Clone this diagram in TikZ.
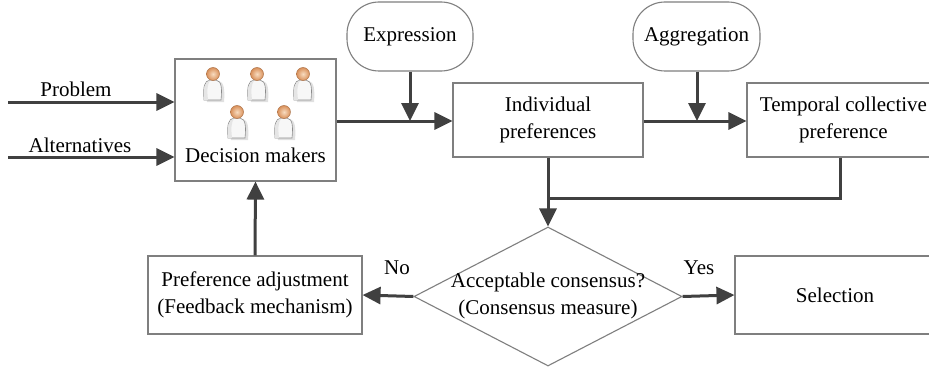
\documentclass[tikz,border=0pt]{standalone}
\usepackage{fontspec}
\setmainfont{Liberation Serif}
\newfontfamily\tnr{Liberation Serif}
\usetikzlibrary{arrows.meta,shapes.geometric}
\definecolor{linec}{HTML}{404040}
\definecolor{boxc}{HTML}{7F7F7F}
\definecolor{headc}{HTML}{D9905A}
\definecolor{headl}{HTML}{F8DCC0}
\begin{document}
\begin{tikzpicture}[x=1pt,y=-1pt,
  box/.style={draw=boxc,line width=1.1pt,fill=white,rectangle,inner sep=0pt,align=center},
  term/.style={draw=boxc,line width=1.1pt,fill=white,rectangle,rounded corners=32pt,inner sep=0pt,align=center},
  conn/.style={draw=linec,line width=3pt,-{Triangle[length=18pt,width=17pt]}},
  plain/.style={draw=linec,line width=3pt},
  lbl/.style={inner sep=0pt,align=center},
  every node/.style={font=\tnr\fontsize{21}{27}\selectfont},
  person/.pic={
    \fill[black!12] (-1,7) .. controls (-6,8) and (-7,14) .. (-6,28) -- (11,28) .. controls (12,16) and (11,8) .. (6,7) -- cycle;
    \draw[black!45,line width=0.6pt,fill=black!3] (-3,6) .. controls (-9,7) and (-10,13) .. (-9,26) -- (8,26) .. controls (9,15) and (9,7) .. (3,6) -- cycle;
    \fill[black!10] (-9,26) -- (-5,26) .. controls (-6,17) and (-6,11) .. (-3,6.5) .. controls (-8,8) and (-10,14) .. (-9,26) -- cycle;
    \shade[inner color=headl,outer color=headc] (0,0) circle (6.5);
    \draw[headc!80!black,line width=0.5pt] (0,0) circle (6.5);
  }]
\useasboundingbox (0,0) rectangle (929,369);
\fill[white] (0,0) rectangle (929,369);
\clip (0,0) rectangle (929,369);

% nodes
\node[box,minimum width=161pt,minimum height=122pt] (dm) at (255.5,120) {};
\node[lbl] (dmtext) at (255.5,155) {Decision makers};
\pic at (213,74) {person};
\pic at (257,74) {person};
\pic at (303,74) {person};
\pic at (237,112) {person};
\pic at (284,112) {person};

\node[term,minimum width=126pt,minimum height=69pt] (expr) at (410,36.5) {Expression};
\node[term,minimum width=127pt,minimum height=69pt] (aggr) at (696.5,36.5) {Aggregation};

\node[box,minimum width=190pt,minimum height=74pt] (ip) at (548,120) {Individual\\preferences};
\node[box,minimum width=193pt,minimum height=74pt] (tc) at (843.5,120) {Temporal collective\\preference};

\node[diamond,draw=boxc,line width=1.1pt,fill=white,minimum width=268pt,minimum height=139pt,inner sep=0pt,align=center] (dec) at (548,296.5) {};
\node[lbl] (dectext) at (548,296) {Acceptable consensus?\\(Consensus measure)};

\node[box,minimum width=214pt,minimum height=78pt] (pa) at (255,295) {Preference adjustment\\(Feedback mechanism)};
\node[box,minimum width=200pt,minimum height=78pt] (sel) at (835,295) {Selection};

\node[lbl] (nolbl) at (397,268) {No};
\node[lbl] (yeslbl) at (699,268) {Yes};
\node[lbl] (problbl) at (76,89) {Problem};
\node[lbl] (altlbl) at (80,145) {Alternatives};

\coordinate (pstart) at (8,102);
\coordinate (astart) at (8,157);
\coordinate (j1) at (410,121);
\coordinate (j2) at (697,121);
\coordinate (j3) at (548,198);
\coordinate (j4) at (840,198);

% connectors
\draw[conn] (pstart) -- (pstart -| dm.west);
\draw[conn] (astart) -- (astart -| dm.west);
\draw[conn] (dm.east |- j1) -- (ip.west |- j1);
\draw[conn] (expr.south) -- (j1);
\draw[conn] (ip.east |- j2) -- (tc.west |- j2);
\draw[conn] (aggr.south -| j2) -- (j2);
\draw[conn] (ip.south) -- (dec.north);
\draw[plain] (tc.south -| j4) -- (j4) -- (j3);
\draw[conn] (dec.west) -- (pa.east);
\draw[conn] (dec.east) -- (sel.west);
\draw[conn] (pa.north) -- (dm.south);
\end{tikzpicture}
\end{document}
